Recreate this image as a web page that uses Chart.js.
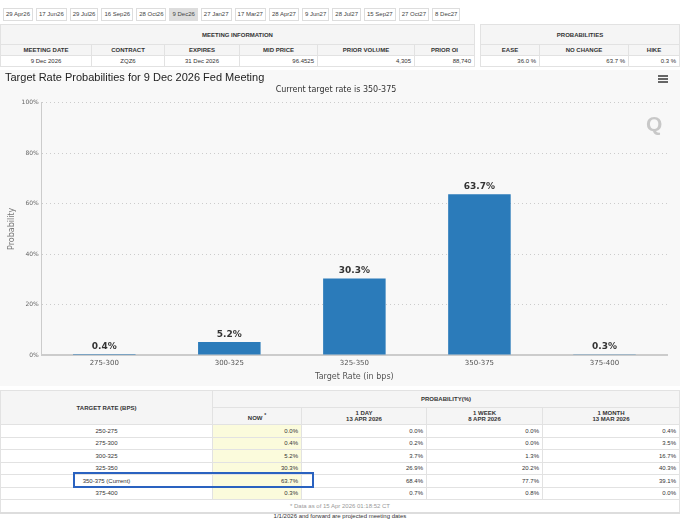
<!DOCTYPE html>
<html>
<head>
    <title>FedWatch - Target Rate Probabilities</title>
    <script src="https://cdn.jsdelivr.net/npm/chart.js"></script>
    <style>
        body { margin: 0; width: 680px; height: 522px; background: #fff; font-family: "Liberation Sans", Arial, sans-serif; color: #333; position: relative; overflow: hidden; }
        #tabs { position: absolute; top: 8px; left: 3px; display: flex; gap: 3px; font-size: 6px; line-height: 11px; }
        #tabs span { border: 1px solid #ddd; padding: 0 2px; color: #444; background: #fff; white-space: nowrap; }
        #tabs span.sel { background: #ddd; }
        table { border-collapse: collapse; font-size: 6px; }
        td, th { border: 1px solid #e2e2e2; padding: 0 3px; }
        th { background: #f5f5f5; font-weight: bold; color: #333; }
        #meeting { position: absolute; top: 24px; left: 0; width: 475px; }
        #probs { position: absolute; top: 24px; left: 480px; width: 200px; }
        #meeting tr, #probs tr { height: 11px; }
        #meeting tr.top, #probs tr.top { height: 20px; }
        .r { text-align: right; }
        .c { text-align: center; }
        #chart-wrap { position: absolute; top: 70px; left: 0; width: 680px; height: 316px; background: #f8f8f8; }
        #menu { position: absolute; top: 75px; left: 658px; width: 10px; }
        #menu div { height: 1.5px; background: #666; margin-bottom: 1.5px; }
        #wm { position: absolute; top: 112px; left: 646px; font: bold 21px "Liberation Sans", Arial; color: #c8c8c8; }
        #rates { position: absolute; top: 390px; left: 0; width: 680px; }
        #rates th { height: 16px; }
        #rates td { height: 11.5px; }
        #rates td.now { background: #fbfbdc; }
        #rates td.note { color: #999; text-align: center; border-bottom: 2px solid #ddd; }
        #box { position: absolute; left: 73px; top: 472px; width: 237px; height: 12px; border: 2px solid #2a62c0; }
        #foot { position: absolute; top: 513px; left: 0; width: 680px; text-align: center; font-size: 6px; color: #333; }
    </style>
</head>
<body>
    <div id="tabs"></div>

    <table id="meeting">
        <tr class="top"><th colspan="6">MEETING INFORMATION</th></tr>
        <tr><th style="width:84px">MEETING DATE</th><th style="width:66px">CONTRACT</th><th style="width:68px">EXPIRES</th><th style="width:71px">MID PRICE</th><th style="width:90px">PRIOR VOLUME</th><th>PRIOR OI</th></tr>
        <tr><td class="c">9 Dec 2026</td><td class="c">ZQZ6</td><td class="c">31 Dec 2026</td><td class="r">96.4525</td><td class="r">4,305</td><td class="r">88,740</td></tr>
    </table>
    <table id="probs">
        <tr class="top"><th colspan="3">PROBABILITIES</th></tr>
        <tr><th style="width:52px">EASE</th><th style="width:82px">NO CHANGE</th><th>HIKE</th></tr>
        <tr><td class="r">36.0 %</td><td class="r">63.7 %</td><td class="r">0.3 %</td></tr>
    </table>

    <div id="chart-wrap"><canvas id="chart" width="680" height="316"></canvas></div>
    <div id="menu"><div></div><div></div><div></div></div>
    <div id="wm">Q</div>

    <table id="rates"></table>
    <div id="box"></div>
    <div id="foot">1/1/2026 and forward are projected meeting dates</div>

    <script>
// meeting tabs
const meetingTabs = ['29 Apr26', '17 Jun26', '29 Jul26', '16 Sep26', '28 Oct26', '9 Dec26', '27 Jan27',
    '17 Mar27', '28 Apr27', '9 Jun27', '28 Jul27', '15 Sep27', '27 Oct27', '8 Dec27'];
const selectedTab = '9 Dec26';

// chart data
const chartRates = ['275-300', '300-325', '325-350', '350-375', '375-400'];
const chartProbs = [0.4, 5.2, 30.3, 63.7, 0.3];
const yTicks = [0, 20, 40, 60, 80, 100];

// table data
const tableRates = ['250-275', '275-300', '300-325', '325-350', '350-375 (Current)', '375-400'];
const probNow = [0.0, 0.4, 5.2, 30.3, 63.7, 0.3];
const prob1Day = [0.0, 0.2, 3.7, 26.9, 68.4, 0.7];
const prob1Week = [0.0, 0.0, 1.3, 20.2, 77.7, 0.8];
const prob1Month = [0.4, 3.5, 16.7, 40.3, 39.1, 0.0];

// tabs
const tabs = document.getElementById('tabs');
meetingTabs.forEach(t => {
    const s = document.createElement('span');
    s.textContent = t;
    if (t === selectedTab) s.className = 'sel';
    tabs.appendChild(s);
});

// rates table
let html = '<tr><th rowspan="2" style="width:205px">TARGET RATE (BPS)</th><th colspan="4">PROBABILITY(%)</th></tr>';
html += '<tr><th style="width:82px">NOW <sup>*</sup></th><th style="width:118px">1 DAY<br>13 APR 2026</th>' +
    '<th style="width:109px">1 WEEK<br>8 APR 2026</th><th>1 MONTH<br>13 MAR 2026</th></tr>';
tableRates.forEach((r, i) => {
    html += '<tr><td class="c">' + r + '</td><td class="r now">' + probNow[i].toFixed(1) + '%</td>' +
        '<td class="r">' + prob1Day[i].toFixed(1) + '%</td><td class="r">' + prob1Week[i].toFixed(1) + '%</td>' +
        '<td class="r">' + prob1Month[i].toFixed(1) + '%</td></tr>';
});
html += '<tr><td colspan="5" class="note">* Data as of 15 Apr 2026 01:18:52 CT</td></tr>';
document.getElementById('rates').innerHTML = html;

// labels on top of the bars
const barLabels = {
    id: 'barLabels',
    afterDatasetsDraw(chart) {
        const ctx = chart.ctx;
        ctx.save();
        ctx.font = 'bold 9px "DejaVu Sans", sans-serif';
        ctx.fillStyle = '#333';
        ctx.textAlign = 'center';
        ctx.textBaseline = 'bottom';
        chart.getDatasetMeta(0).data.forEach((bar, i) => {
            ctx.fillText(chartProbs[i].toFixed(1) + '%', bar.x, bar.y - 3);
        });
        ctx.restore();
    }
};

new Chart(document.getElementById('chart').getContext('2d'), {
    type: 'bar',
    data: {
        labels: chartRates,
        datasets: [{
            data: chartProbs,
            backgroundColor: '#2b7bba',
            categoryPercentage: 1,
            barPercentage: 0.5
        }]
    },
    plugins: [barLabels],
    options: {
        responsive: false,
        animation: false,
        layout: { padding: { left: 5, right: 13, top: 0, bottom: 3 } },
        plugins: {
            legend: { display: false },
            tooltip: { enabled: false },
            title: {
                display: true,
                text: 'Target Rate Probabilities for 9 Dec 2026 Fed Meeting',
                align: 'start',
                color: '#222',
                font: { family: '"Liberation Sans", Arial', size: 11, weight: 'normal' },
                padding: { top: 1, bottom: 1 }
            },
            subtitle: {
                display: true,
                text: 'Current target rate is 350-375',
                color: '#333',
                font: { family: '"DejaVu Sans", sans-serif', size: 8 },
                padding: { top: 0, bottom: 8 }
            }
        },
        scales: {
            x: {
                grid: { display: false, drawTicks: false },
                border: { display: true, color: '#ccc', width: 2 },
                ticks: { color: '#555', font: { family: '"DejaVu Sans", sans-serif', size: 7 }, padding: 4 },
                title: { display: true, text: 'Target Rate (in bps)', color: '#555', font: { family: '"DejaVu Sans", sans-serif', size: 8 }, padding: 1 }
            },
            y: {
                min: 0,
                max: 100,
                afterBuildTicks: axis => { axis.ticks = yTicks.map(v => ({ value: v })); },
                grid: { color: '#ccc', drawTicks: false },
                border: { display: true, color: '#ccc', width: 1, dash: [1, 3] },
                ticks: { color: '#666', font: { family: '"DejaVu Sans", sans-serif', size: 6 }, padding: 3, callback: v => v + '%' },
                title: { display: true, text: 'Probability', color: '#777', font: { family: '"DejaVu Sans", sans-serif', size: 8 }, padding: 2 }
            }
        }
    }
});
    </script>
</body>
</html>
